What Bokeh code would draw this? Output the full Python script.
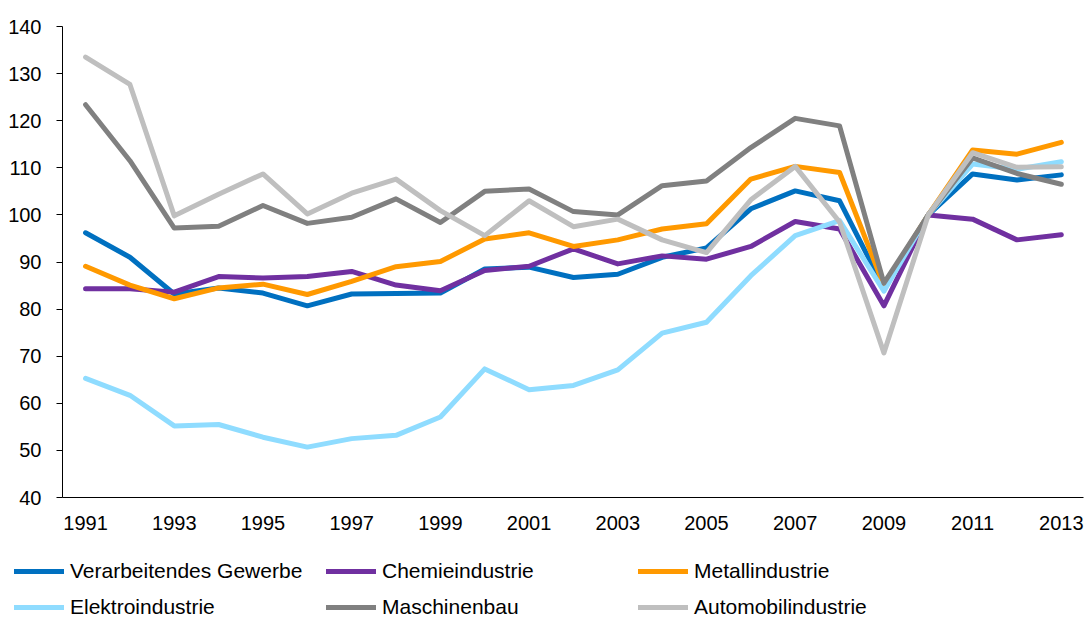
from bokeh.plotting import figure
from bokeh.models import Legend, LegendItem, FixedTicker, Range1d
from bokeh.embed import file_html
from bokeh.resources import INLINE

years = list(range(1991, 2014))

verarbeitendes = [96.2, 91.0, 83.2, 84.5, 83.4, 80.7, 83.2, 83.3, 83.4, 88.5, 88.9, 86.7,
                  87.4, 91.0, 93.0, 101.3, 105.1, 103.0, 84.5, 100.0, 108.7, 107.4, 108.5]
chemie = [84.3, 84.3, 83.6, 86.9, 86.6, 86.9, 88.0, 85.1, 83.9, 88.2, 89.1, 92.8,
          89.6, 91.3, 90.6, 93.3, 98.6, 97.0, 80.7, 100.0, 99.1, 94.7, 95.8]
metall = [89.1, 85.1, 82.2, 84.5, 85.3, 83.1, 85.9, 89.0, 90.1, 94.9, 96.2, 93.3,
          94.7, 97.0, 98.1, 107.6, 110.3, 109.0, 85.0, 100.0, 113.8, 112.9, 115.4]
elektro = [65.3, 61.7, 55.2, 55.5, 52.8, 50.7, 52.5, 53.2, 57.1, 67.3, 62.9, 63.8,
           67.1, 74.9, 77.2, 87.1, 95.6, 98.8, 83.8, 100.0, 110.8, 109.7, 111.3]
maschinenbau = [123.4, 111.5, 97.2, 97.6, 102.0, 98.2, 99.5, 103.4, 98.4, 105.0, 105.5, 100.7,
                100.0, 106.2, 107.2, 114.3, 120.5, 118.9, 85.5, 100.0, 112.1, 108.8, 106.5]
automobil = [133.5, 127.7, 99.8, 104.4, 108.7, 100.2, 104.6, 107.6, 100.9, 95.6, 103.0, 97.5,
             99.1, 94.7, 92.0, 103.2, 110.3, 98.5, 70.7, 100.0, 113.2, 110.1, 110.2]

series_names = ["Verarbeitendes Gewerbe", "Chemieindustrie", "Metallindustrie",
                "Elektroindustrie", "Maschinenbau", "Automobilindustrie"]
series_values = [verarbeitendes, chemie, metall, elektro, maschinenbau, automobil]
series_colors = ["#0070C0", "#7030A0", "#FF9900", "#8FDCFF", "#808080", "#BFBFBF"]

x_ticks = list(range(1991, 2014, 2))
y_ticks = list(range(40, 141, 10))

p = figure(width=1086, height=550,
           x_range=Range1d(1990.48, 2013.5), y_range=Range1d(40, 140),
           output_backend="svg", toolbar_location=None,
           min_border_left=62, min_border_right=3, min_border_top=26, min_border_bottom=53)

p.xgrid.visible = False
p.ygrid.visible = False
p.outline_line_color = None
p.background_fill_color = "white"
p.border_fill_color = "white"

for name, vals, col in zip(series_names, series_values, series_colors):
    p.line(years, vals, line_color=col, line_width=5,
           line_join="round", line_cap="round")

# axes
p.xaxis.ticker = FixedTicker(ticks=x_ticks)
p.xaxis.minor_tick_line_color = None
p.xaxis.major_tick_out = 0
p.xaxis.major_tick_in = 0
p.xaxis.axis_line_color = "#000000"
p.xaxis.axis_line_width = 1
p.xaxis.major_label_standoff = 18
p.xaxis.major_label_text_font = "Liberation Sans"
p.xaxis.major_label_text_font_size = "20px"
p.xaxis.major_label_text_color = "#000000"

p.yaxis.ticker = FixedTicker(ticks=y_ticks)
p.yaxis.minor_tick_line_color = None
p.yaxis.major_tick_out = 6
p.yaxis.major_tick_in = 0
p.yaxis.major_tick_line_color = "#000000"
p.yaxis.axis_line_color = "#000000"
p.yaxis.axis_line_width = 1
p.yaxis.major_label_standoff = 15
p.yaxis.major_label_text_font = "Liberation Sans"
p.yaxis.major_label_text_font_size = "20px"
p.yaxis.major_label_text_color = "#000000"

# legend in its own strip below the chart (series lie outside its ranges, only the legend shows)
lg = figure(width=1086, height=71, x_range=Range1d(0, 1), y_range=Range1d(0, 1),
            x_axis_type=None, y_axis_type=None,
            output_backend="svg", toolbar_location=None,
            min_border_left=0, min_border_right=0, min_border_top=0, min_border_bottom=0)
lg.xgrid.visible = False
lg.ygrid.visible = False
lg.outline_line_color = None
lg.background_fill_color = "white"
lg.border_fill_color = "white"

items = []
for name, vals, col in zip(series_names, series_values, series_colors):
    r = lg.line(years, vals, line_color=col, line_width=5, line_join="round", line_cap="round")
    items.append(LegendItem(label=name, renderers=[r]))

legend = Legend(items=items, location=(14, -4), orientation="horizontal", ncols=3,
                glyph_width=50, glyph_height=36, label_height=36, label_width=256,
                label_standoff=6, spacing=0, padding=0, margin=0,
                border_line_color=None, background_fill_alpha=0,
                label_text_font="Liberation Sans", label_text_font_size="21px",
                label_text_color="#000000")
lg.add_layout(legend, "center")

open("out.html", "w").write(file_html([p, lg], INLINE))
